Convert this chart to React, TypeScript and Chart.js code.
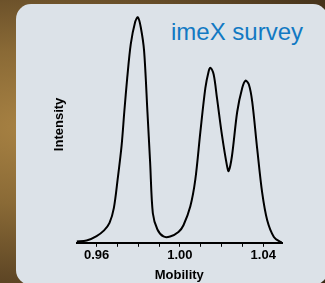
import React, { useEffect, useRef } from "react";
import { Chart, registerables } from "chart.js";

Chart.register(...registerables);

const TITLE = "imeX survey";
const X_TITLE = "Mobility";
const Y_TITLE = "Intensity";

const mobility = [
  0.9504, 0.9552, 0.96, 0.9636, 0.9662, 0.9683, 0.9701, 0.972, 0.9733, 0.9747, 0.9764,
  0.9785, 0.9798, 0.9812, 0.9828, 0.9844, 0.9857, 0.987, 0.9892, 0.9921, 0.9953,
  0.9993, 1.0017, 1.005, 1.0074, 1.0098, 1.0122, 1.0138, 1.0146, 1.0162, 1.0178,
  1.0202, 1.0226, 1.0234, 1.025, 1.0275, 1.0299, 1.0315, 1.0331, 1.0347, 1.0371,
  1.0395, 1.0419, 1.0451, 1.0483, 1.049,
];
const intensity = [
  0.6, 1.0, 3.0, 5.5, 8.8, 15.5, 28.1, 43.1, 58.1, 73.1, 88.1,
  97.9, 100, 95.6, 85.1, 58.1, 35.6, 13.1, 5.9, 2.8, 2.8,
  4.8, 7.8, 16.2, 28.1, 49.1, 68.6, 76.1, 77.6, 74.6, 64.1,
  47.6, 34.1, 31.8, 38.6, 58.1, 68.6, 71.9, 70.2, 62.6, 41.6,
  22.1, 10.0, 2.6, 0.3, 0.2,
];
const labeledTicks = [0.96, 1.0, 1.04];

export default function App() {
  const ref = useRef<HTMLCanvasElement | null>(null);

  useEffect(() => {
    if (!ref.current) return;
    const points = mobility.map((m, i) => ({ x: m, y: intensity[i] }));
    const font = { family: "'Liberation Sans', Arial, sans-serif", size: 13, weight: "bold" as const };
    const chart = new Chart(ref.current, {
      type: "line",
      data: {
        datasets: [
          {
            data: points,
            borderColor: "#000000",
            borderWidth: 2,
            pointRadius: 0,
            fill: false,
            tension: 0.3,
          },
        ],
      },
      options: {
        animation: false,
        responsive: false,
        events: [],
        layout: { padding: { left: 48, right: 43, top: 6, bottom: 0 } },
        plugins: { legend: { display: false }, tooltip: { enabled: false }, title: { display: false } },
        scales: {
          x: {
            type: "linear",
            min: 0.9504,
            max: 1.049,
            border: { display: true, color: "#000000", width: 2 },
            grid: { drawOnChartArea: false, drawTicks: true, tickLength: 4, color: "#000000", lineWidth: 1 },
            ticks: {
              stepSize: 0.01,
              includeBounds: false,
              autoSkip: false,
              maxRotation: 0,
              padding: 1,
              color: "#000000",
              font,
              callback: (v: any) => {
                const n = Number(v);
                return labeledTicks.some((t) => Math.abs(t - n) < 1e-6) ? n.toFixed(2) : "";
              },
            },
            title: { display: true, text: X_TITLE, color: "#000000", font, padding: { top: 3, bottom: 0 } },
          },
          y: {
            type: "linear",
            min: 0,
            max: 105,
            border: { display: false },
            grid: { display: false, drawTicks: false },
            ticks: { display: false },
            title: { display: true, text: Y_TITLE, color: "#000000", font, padding: { top: 4, bottom: 9 } },
          },
        },
      },
    });
    return () => chart.destroy();
  }, []);

  return (
    <div
      style={{
        position: "absolute",
        left: 0,
        top: 0,
        width: 325,
        height: 283,
        overflow: "hidden",
        background:
          "radial-gradient(ellipse at 10% 45%, #a88243 0%, #8a6a36 35%, #5e4625 70%, #3a2a16 100%)",
      }}
    >
      <div
        style={{
          position: "absolute",
          left: 16,
          top: 4,
          width: 312,
          height: 281,
          borderRadius: 15,
          background: "#dce2e8",
        }}
      />
      <div
        style={{
          position: "absolute",
          left: 171,
          top: 20,
          fontFamily: "'Liberation Sans', Arial, sans-serif",
          fontSize: 24,
          lineHeight: "24px",
          color: "#1279c3",
          whiteSpace: "nowrap",
        }}
      >
        {TITLE}
      </div>
      <canvas ref={ref} width={325} height={283} style={{ position: "absolute", left: 0, top: 0 }} />
    </div>
  );
}
